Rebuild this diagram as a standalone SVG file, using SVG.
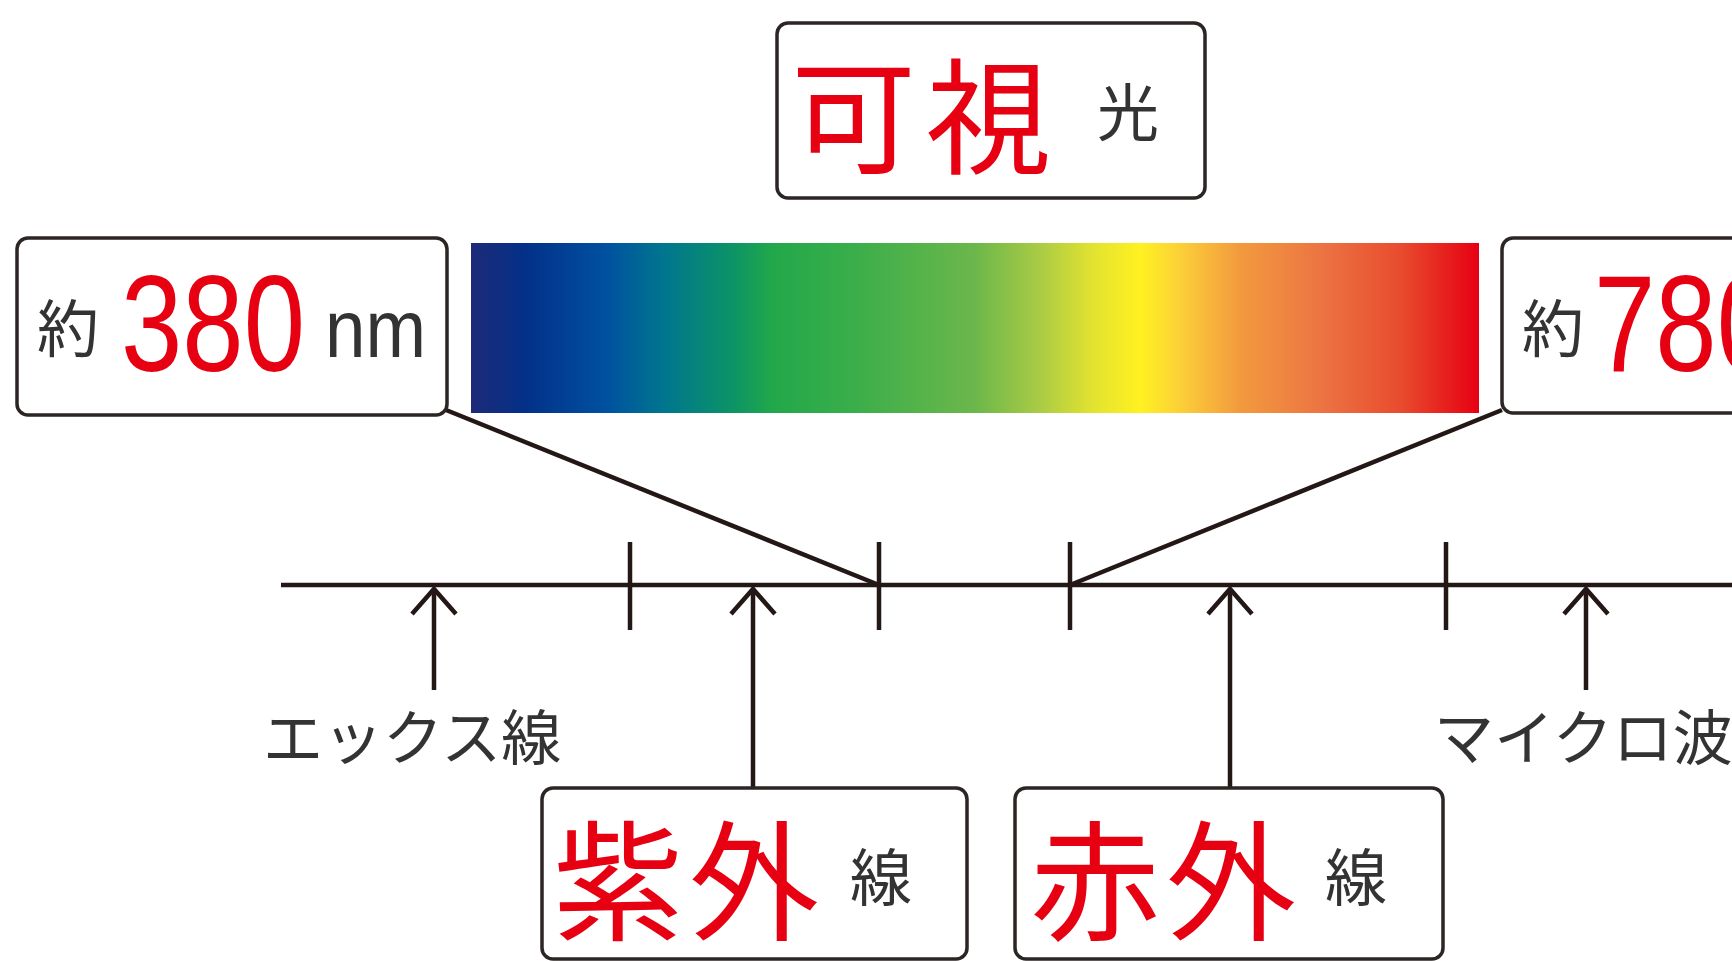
<svg xmlns="http://www.w3.org/2000/svg" width="1732" height="961" viewBox="0 0 1732 961">
<style>
.box{fill:#fff;stroke:#2b2523;stroke-width:3.5}
.ln{stroke:#231815;stroke-width:4.5;fill:none}
.jp{font-family:"Noto Sans CJK JP","Noto Sans CJK SC",sans-serif}
.red{fill:#e60012}
.dk{fill:#333}
.num{font-family:"Liberation Sans",Arial,sans-serif}
</style>
<defs>
<linearGradient id="spec" x1="0" y1="0" x2="1" y2="0">
<stop offset="0" stop-color="#1e2a78"/>
<stop offset="0.053" stop-color="#033088"/>
<stop offset="0.133" stop-color="#0050a0"/>
<stop offset="0.19" stop-color="#00758f"/>
<stop offset="0.26" stop-color="#0c9466"/>
<stop offset="0.3" stop-color="#22a84a"/>
<stop offset="0.38" stop-color="#3aae4a"/>
<stop offset="0.5" stop-color="#6cb74b"/>
<stop offset="0.564" stop-color="#a9cb45"/>
<stop offset="0.617" stop-color="#e2e330"/>
<stop offset="0.664" stop-color="#fff121"/>
<stop offset="0.703" stop-color="#fcd037"/>
<stop offset="0.763" stop-color="#f29a3e"/>
<stop offset="0.843" stop-color="#ec7443"/>
<stop offset="0.922" stop-color="#e84c2e"/>
<stop offset="1" stop-color="#e60012"/>
</linearGradient>
<marker id="chev" markerUnits="userSpaceOnUse" markerWidth="60" markerHeight="60" refX="0" refY="0" orient="auto" overflow="visible">
<path d="M -25 -22 L 0 0 L -25 22" fill="none" stroke="#231815" stroke-width="4.5"/>
</marker>
</defs>
<rect width="1732" height="961" fill="#fff"/>

<g id="spectrum">
<rect x="471" y="243" width="1008" height="170" fill="url(#spec)"/>
</g>

<g id="connectors">
<line class="ln" x1="281" y1="585" x2="1732" y2="585"/>
<line class="ln" x1="630" y1="542" x2="630" y2="630"/>
<line class="ln" x1="879" y1="542" x2="879" y2="630"/>
<line class="ln" x1="1070" y1="542" x2="1070" y2="630"/>
<line class="ln" x1="1446" y1="542" x2="1446" y2="630"/>
<line class="ln" x1="446" y1="410" x2="879" y2="585"/>
<line class="ln" x1="1502" y1="410" x2="1070" y2="585"/>
<line class="ln" x1="434" y1="690" x2="434" y2="589" marker-end="url(#chev)"/>
<line class="ln" x1="753" y1="788" x2="753" y2="589" marker-end="url(#chev)"/>
<line class="ln" x1="1230" y1="788" x2="1230" y2="589" marker-end="url(#chev)"/>
<line class="ln" x1="1586" y1="690" x2="1586" y2="589" marker-end="url(#chev)"/>
</g>

<g id="visible">
<rect class="box" x="777" y="23" width="428" height="175" rx="11"/>
<text class="jp red" x="791" y="164" font-size="125" letter-spacing="10">可視</text>
<text class="jp dk" x="1097" y="136" font-size="62">光</text>
</g>

<g id="nm380">
<rect class="box" x="17" y="238" width="430" height="177" rx="11"/>
<text class="jp dk" x="37" y="352" font-size="62">約</text>
<text class="num red" x="121" y="371" font-size="138" textLength="184" lengthAdjust="spacingAndGlyphs">380</text>
<text class="num dk" x="325" y="357" font-size="81" textLength="101" lengthAdjust="spacingAndGlyphs">nm</text>
</g>

<g id="nm780">
<rect class="box" x="1502" y="238" width="300" height="175" rx="11"/>
<text class="jp dk" x="1522" y="352" font-size="62">約</text>
<text class="num red" x="1594" y="371" font-size="138" textLength="184" lengthAdjust="spacingAndGlyphs">780</text>
</g>

<g id="xray">
<text class="jp dk" x="263" y="760" font-size="60">エックス線</text>
</g>

<g id="microwave">
<text class="jp dk" x="1434" y="760" font-size="60">マイクロ波</text>
</g>

<g id="uv">
<rect class="box" x="542" y="788" width="425" height="171" rx="11"/>
<text class="jp red" x="553" y="930" font-size="130" letter-spacing="6">紫外</text>
<text class="jp dk" x="850" y="901" font-size="62">線</text>
</g>

<g id="ir">
<rect class="box" x="1015" y="788" width="428" height="171" rx="11"/>
<text class="jp red" x="1030" y="930" font-size="130" letter-spacing="6">赤外</text>
<text class="jp dk" x="1325" y="901" font-size="62">線</text>
</g>
</svg>
